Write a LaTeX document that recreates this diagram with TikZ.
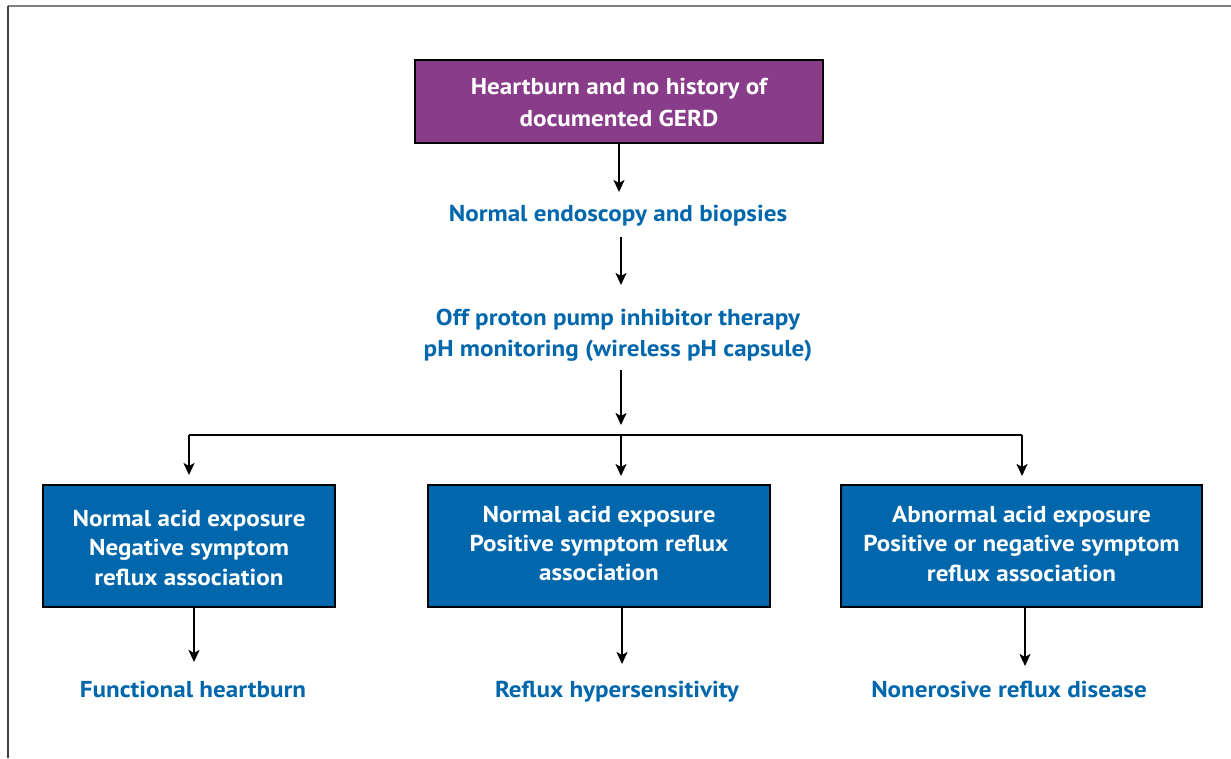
\documentclass[tikz,border=0pt]{standalone}
\usepackage{fontspec}
\setmainfont{PT Sans}[FakeStretch=1.09]
\usetikzlibrary{arrows.meta}
\definecolor{gpurple}{HTML}{883C8A}
\definecolor{gblue}{HTML}{0067AC}
\tikzset{
  boxshape/.style={draw=black, line width=2.4pt, fill=gblue, inner sep=0pt},
  boxtext/.style={text=white, font=\fontsize{23}{29.5}\selectfont\bfseries, align=center, inner sep=0pt},
  lbl/.style={text=gblue, font=\fontsize{23}{31}\selectfont\bfseries, align=center, inner sep=0pt},
  arr/.style={line width=2pt, -{Stealth[length=12pt, width=11pt, inset=3pt]}},
  ln/.style={line width=2pt}
}
\begin{document}
\begin{tikzpicture}[x=1pt,y=-1pt]
\useasboundingbox (0,0) rectangle (1231,758);
\fill[white] (0,0) rectangle (1231,758);
\draw[line width=2pt, draw=gray] (8,6) -- (1231,6);
\draw[line width=1.5pt, draw=black!75] (8,6) -- (8,758);

\node[boxshape, fill=gpurple, minimum width=408pt, minimum height=83pt] (top) at (619,101.5) {};
\node[boxtext, font=\fontsize{23}{32}\selectfont\bfseries] (toptext) at (619,102) {Heartburn and no history of\\documented GERD};
\node[lbl, anchor=base] (endo) at (618,221) {Normal endoscopy and biopsies};
\node[lbl] (ph) at (618,335) {Off proton pump inhibitor therapy\\pH monitoring (wireless pH capsule)};

\node[boxshape, minimum width=292pt, minimum height=122pt] (b1) at (189,546) {};
\node[boxshape, minimum width=342pt, minimum height=122pt] (b2) at (599,546) {};
\node[boxshape, minimum width=361pt, minimum height=122pt] (b3) at (1021.5,546) {};
\node[boxtext] (t1) at (189,547.5) {Normal acid exposure\\Negative symptom\\reflux association};
\node[boxtext, font=\fontsize{23}{29}\selectfont\bfseries] (t2) at (599,543) {Normal acid exposure\\Positive symptom reflux\\association};
\node[boxtext] (t3) at (1021.5,543.5) {Abnormal acid exposure\\Positive or negative symptom\\reflux association};

\node[lbl, anchor=base] (r1) at (193,697) {Functional heartburn};
\node[lbl, anchor=base] (r2) at (617,697) {Reflux hypersensitivity};
\node[lbl, anchor=base] (r3) at (1009,697) {Nonerosive reflux disease};

\coordinate (j) at (621,435);
\draw[arr] (top.south -| 619,0) -- (619,192);
\draw[arr] (621,237) -- (621,285);
\draw[arr] (621,370) -- (621,425);
\draw[ln] (189,435) -- (1022,435);
\draw[arr] (189,435) -- (189,475);
\draw[arr] (j) -- (621,476);
\draw[arr] (1022,435) -- (1022,476);
\draw[arr] (b1.south -| 194,0) -- (194,662);
\draw[arr] (b2.south -| 622,0) -- (622,664);
\draw[arr] (b3.south -| 1025,0) -- (1025,666);
\end{tikzpicture}
\end{document}
